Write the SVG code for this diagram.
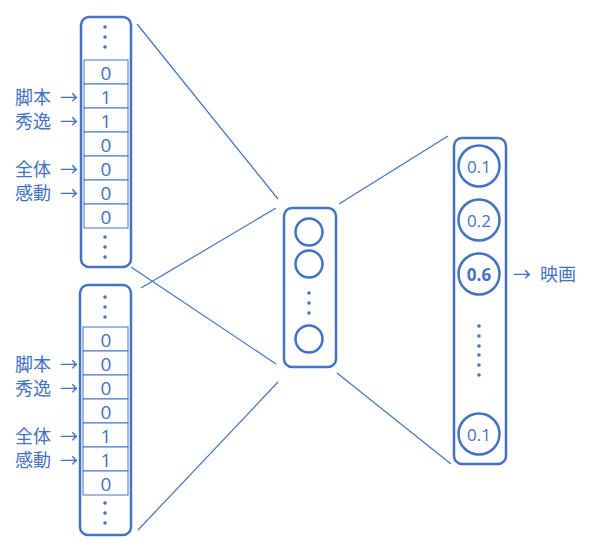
<svg xmlns="http://www.w3.org/2000/svg" width="603" height="551" viewBox="0 0 603 551">
<style>
.col{fill:#fff;stroke:#4472C4;stroke-width:2.5}
.cell{fill:#fff;stroke:#4472C4;stroke-width:1}
.dot{fill:#4472C4}
.num{font-family:"Open Sans","Noto Sans",sans-serif;font-size:19px;fill:#4472C4;text-anchor:middle;dominant-baseline:central}
.lab{font-family:"Noto Sans CJK JP",sans-serif;font-size:18px;fill:#4472C4;dominant-baseline:central}
.arr{font-family:"Noto Sans CJK JP",sans-serif;font-size:18px;fill:#4472C4;dominant-baseline:central}
.conn{stroke:#4472C4;stroke-width:1.2;fill:none}
.circ{fill:#fff;stroke:#4472C4;stroke-width:2.5}
.cnum{font-family:"Open Sans","Noto Sans",sans-serif;font-size:17px;fill:#4472C4;text-anchor:middle;dominant-baseline:central}
</style>
<rect width="603" height="551" fill="#fff"/>
<g id="connectors">
<line class="conn" x1="137" y1="24" x2="278" y2="199"/>
<line class="conn" x1="141" y1="288" x2="276" y2="208"/>
<line class="conn" x1="131" y1="267" x2="276" y2="364"/>
<line class="conn" x1="138" y1="530" x2="278" y2="382"/>
<line class="conn" x1="339" y1="204" x2="448" y2="136"/>
<line class="conn" x1="337" y1="373" x2="451" y2="464"/>
</g>
<g id="input1">
<rect class="col" x="81" y="17" width="50" height="250" rx="8"/>
<circle class="dot" cx="105" cy="27" r="1.8"/><circle class="dot" cx="105" cy="37" r="1.8"/><circle class="dot" cx="105" cy="47" r="1.8"/>
<rect class="cell" x="84" y="60" width="44" height="24"/>
<rect class="cell" x="84" y="84" width="44" height="24"/>
<rect class="cell" x="84" y="108" width="44" height="24"/>
<rect class="cell" x="84" y="132" width="44" height="24"/>
<rect class="cell" x="84" y="156" width="44" height="24"/>
<rect class="cell" x="84" y="180" width="44" height="24"/>
<rect class="cell" x="84" y="204" width="44" height="24"/>
<text class="num" x="106" y="73">0</text>
<text class="num" x="106" y="97">1</text>
<text class="num" x="106" y="121">1</text>
<text class="num" x="106" y="145">0</text>
<text class="num" x="106" y="169">0</text>
<text class="num" x="106" y="193">0</text>
<text class="num" x="106" y="217">0</text>
<circle class="dot" cx="105" cy="237" r="1.8"/><circle class="dot" cx="105" cy="247" r="1.8"/><circle class="dot" cx="105" cy="257" r="1.8"/>
<text class="lab" x="15" y="96">脚本</text><text class="arr" x="60" y="96">→</text>
<text class="lab" x="15" y="120">秀逸</text><text class="arr" x="60" y="120">→</text>
<text class="lab" x="15" y="168">全体</text><text class="arr" x="60" y="168">→</text>
<text class="lab" x="15" y="192">感動</text><text class="arr" x="60" y="192">→</text>
</g>
<g id="input2">
<rect class="col" x="80" y="285" width="51" height="250" rx="8"/>
<circle class="dot" cx="105" cy="297" r="1.8"/><circle class="dot" cx="105" cy="307" r="1.8"/><circle class="dot" cx="105" cy="317" r="1.8"/>
<rect class="cell" x="83" y="327" width="45" height="24"/>
<rect class="cell" x="83" y="351" width="45" height="24"/>
<rect class="cell" x="83" y="375" width="45" height="24"/>
<rect class="cell" x="83" y="399" width="45" height="24"/>
<rect class="cell" x="83" y="423" width="45" height="24"/>
<rect class="cell" x="83" y="447" width="45" height="24"/>
<rect class="cell" x="83" y="471" width="45" height="24"/>
<text class="num" x="106" y="340">0</text>
<text class="num" x="106" y="364">0</text>
<text class="num" x="106" y="388">0</text>
<text class="num" x="106" y="412">0</text>
<text class="num" x="106" y="436">1</text>
<text class="num" x="106" y="460">1</text>
<text class="num" x="106" y="484">0</text>
<circle class="dot" cx="105" cy="503" r="1.8"/><circle class="dot" cx="105" cy="513" r="1.8"/><circle class="dot" cx="105" cy="523" r="1.8"/>
<text class="lab" x="15" y="363">脚本</text><text class="arr" x="60" y="363">→</text>
<text class="lab" x="15" y="387">秀逸</text><text class="arr" x="60" y="387">→</text>
<text class="lab" x="15" y="435">全体</text><text class="arr" x="60" y="435">→</text>
<text class="lab" x="15" y="459">感動</text><text class="arr" x="60" y="459">→</text>
</g>
<g id="hidden">
<rect class="col" x="284" y="208" width="52" height="159" rx="8"/>
<circle class="circ" cx="309" cy="232" r="13.5"/>
<circle class="circ" cx="309" cy="264" r="13.5"/>
<circle class="dot" cx="309" cy="293" r="1.8"/><circle class="dot" cx="309" cy="303" r="1.8"/><circle class="dot" cx="309" cy="313" r="1.8"/>
<circle class="circ" cx="309" cy="339" r="13.5"/>
</g>
<g id="output">
<rect class="col" x="454" y="138" width="52" height="326" rx="8"/>
<circle class="circ" cx="479" cy="166" r="20.5"/>
<text class="cnum" x="479" y="166">0.1</text>
<circle class="circ" cx="479" cy="220" r="20.5"/>
<text class="cnum" x="479" y="220">0.2</text>
<circle class="circ" cx="479" cy="274" r="20.5"/>
<text class="cnum" x="479" y="274" font-weight="bold">0.6</text>
<circle class="dot" cx="479" cy="326" r="1.8"/><circle class="dot" cx="479" cy="336" r="1.8"/><circle class="dot" cx="479" cy="346" r="1.8"/><circle class="dot" cx="479" cy="355" r="1.8"/><circle class="dot" cx="479" cy="365" r="1.8"/><circle class="dot" cx="479" cy="375" r="1.8"/>
<circle class="circ" cx="479" cy="434" r="20.5"/>
<text class="cnum" x="479" y="434">0.1</text>
<text class="arr" x="513" y="273">→</text><text class="lab" x="540" y="273">映画</text>
</g>
</svg>
